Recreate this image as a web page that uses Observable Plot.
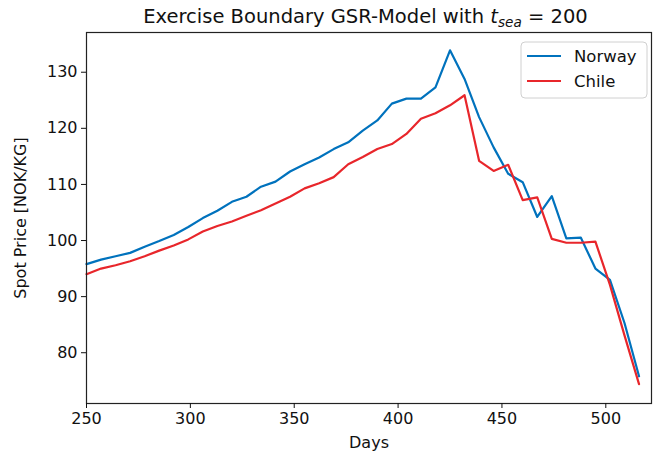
<!DOCTYPE html>
<html><head><meta charset="utf-8">
<script src="https://cdn.jsdelivr.net/npm/d3@7"></script>
<script src="https://cdn.jsdelivr.net/npm/@observablehq/plot@0.6"></script>
<style>html,body{margin:0;padding:0;background:#fff;} svg{font-family:"DejaVu Sans";}</style>
</head><body><div id="chart"></div>
<script>
const days = [250,257,264,271,278,285,292,299,306,313,320,327,334,341,348,355,362,369,376,383,390,397,404,411,418,425,432,439,446,453,460,467,474,481,488,495,502,509,516];
const norway = [95.8,96.6,97.2,97.8,98.9,99.9,101.0,102.4,104.0,105.3,106.9,107.8,109.6,110.5,112.3,113.6,114.8,116.3,117.5,119.6,121.4,124.4,125.3,125.3,127.3,133.9,128.8,122.0,116.6,111.9,110.4,104.2,107.9,100.4,100.5,95.0,93.0,85.3,75.8];
const chile = [94.0,95.0,95.6,96.3,97.2,98.2,99.1,100.2,101.6,102.6,103.4,104.4,105.4,106.6,107.8,109.3,110.2,111.3,113.6,114.9,116.3,117.2,119.0,121.7,122.7,124.1,125.9,114.2,112.4,113.5,107.2,107.7,100.3,99.6,99.6,99.8,92.1,83.1,74.4];
const seriesNames = ["Norway","Chile"];
const seriesColors = ["#0072bd","#e8262b"];
const xTicks = [250,300,350,400,450,500];
const yTicks = [80,90,100,110,120,130];
const titleMain = "Exercise Boundary GSR-Model with ";
const xLabel = "Days";
const yLabel = "Spot Price [NOK/KG]";

const data = [];
days.forEach((d, i) => {
  data.push({day: d, price: norway[i], country: seriesNames[0]});
  data.push({day: d, price: chile[i], country: seriesNames[1]});
});

const W = 661, H = 459, mL = 86, mR = 10, mT = 32, mB = 56;

const chart = Plot.plot({
  width: W, height: H,
  marginLeft: mL, marginRight: mR, marginTop: mT, marginBottom: mB,
  style: {fontFamily: "DejaVu Sans", fontSize: "16px", color: "#111", background: "#fff", overflow: "visible"},
  x: {domain: [250, 522]},
  y: {domain: [70.95, 137.08]},
  color: {domain: seriesNames, range: seriesColors},
  marks: [
    Plot.line(data, {x: "day", y: "price", z: "country", stroke: "country", strokeWidth: 2.2}),
    Plot.frame({stroke: "#222", strokeWidth: 1.2}),
    Plot.axisX({ticks: xTicks, tickSize: 5, tickPadding: 4, fontSize: 16, label: xLabel, labelAnchor: "center", labelArrow: "none", labelOffset: 44}),
    Plot.axisY({ticks: yTicks, tickSize: 5, tickPadding: 4, fontSize: 16, label: yLabel, labelAnchor: "center", labelArrow: "none", labelOffset: 72})
  ]
});
document.getElementById("chart").appendChild(chart);

const svg = d3.select(chart);
// title
const t = svg.append("text")
  .attr("x", mL + (W - mL - mR) / 2 - 3).attr("y", 23)
  .attr("text-anchor", "middle")
  .attr("font-size", 19.5).attr("fill", "#111");
t.append("tspan").text(titleMain);
t.append("tspan").attr("font-style", "italic").text("t");
t.append("tspan").attr("font-style", "italic").attr("font-size", 13.6).attr("dy", 4).text("sea");
t.append("tspan").attr("dy", -4).text(" = 200");

// legend
const lg = svg.append("g").attr("text-anchor", "start");
lg.append("rect").attr("x", 521).attr("y", 42).attr("width", 126).attr("height", 56)
  .attr("rx", 4).attr("fill", "#fff").attr("fill-opacity", 0.8).attr("stroke", "#d0d0d0").attr("stroke-width", 1);
seriesNames.forEach((name, i) => {
  const yy = 56 + i * 25;
  lg.append("line").attr("x1", 527).attr("x2", 561).attr("y1", yy).attr("y2", yy)
    .attr("stroke", seriesColors[i]).attr("stroke-width", 2.2);
  lg.append("text").attr("x", 574).attr("y", yy).attr("dy", "0.35em")
    .attr("text-anchor", "start")
    .attr("font-size", 16.5).attr("fill", "#111").text(name);
});
</script>
</body></html>
